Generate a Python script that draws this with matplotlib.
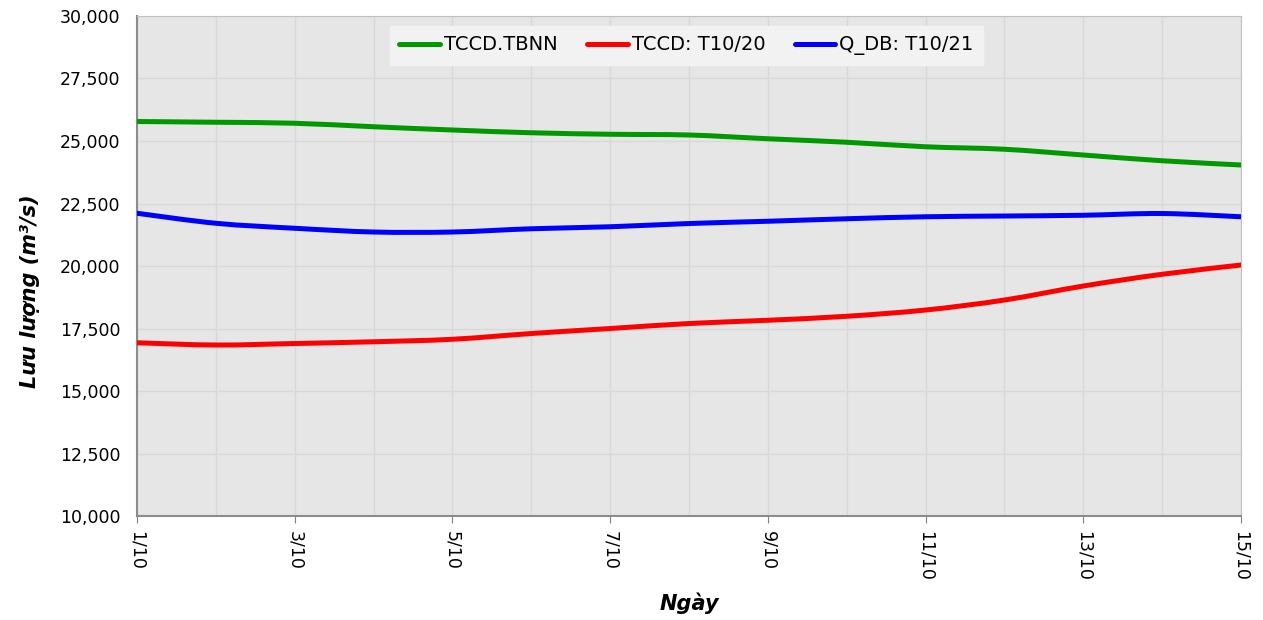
import numpy as np
import matplotlib
matplotlib.use("Agg")
import matplotlib.pyplot as plt
from matplotlib.path import Path
from matplotlib.patches import PathPatch

# daily discharge, 1/10 .. 15/10
days = list(range(1, 16))
day_labels = [f"{d}/10" for d in days]
tbnn = [25780, 25750, 25710, 25570, 25440, 25330, 25270, 25240, 25090, 24950,
        24770, 24670, 24440, 24210, 24040]
t10_20 = [16930, 16840, 16900, 16970, 17070, 17300, 17500, 17700, 17830, 17990,
          18240, 18640, 19200, 19670, 20040]
t10_21 = [22110, 21710, 21510, 21360, 21360, 21490, 21570, 21700, 21790, 21890,
          21970, 22000, 22030, 22100, 21970]

series = [("TCCD.TBNN", tbnn, "#009900"),
          ("TCCD: T10/20", t10_20, "#ff0000"),
          ("Q_DB: T10/21", t10_21, "#0000ff")]


def smooth_path(x, y):
    """Excel-like smoothed line as cubic bezier segments"""
    n = len(x)
    verts = [(x[0], y[0])]
    codes = [Path.MOVETO]
    for i in range(n - 1):
        a = i - 1 if i > 0 else i
        b = i + 2 if i + 2 < n else i + 1
        c1 = (x[i] + (x[i + 1] - x[a]) / 6, y[i] + (y[i + 1] - y[a]) / 6)
        c2 = (x[i + 1] - (x[b] - x[i]) / 6, y[i + 1] - (y[b] - y[i]) / 6)
        verts += [c1, c2, (x[i + 1], y[i + 1])]
        codes += [Path.CURVE4] * 3
    return Path(verts, codes)


fig = plt.figure(figsize=(12.63, 6.2), dpi=100)
ax = fig.add_axes([0.1085, 0.1677, 0.8741, 0.8065])
ax.set_facecolor("#e6e6e6")

for label, vals, colour in series:
    ax.add_patch(PathPatch(smooth_path(days, vals), fill=False, edgecolor=colour,
                           lw=3.6, capstyle="round", joinstyle="round", zorder=3))
    ax.plot([], [], color=colour, lw=3.6, solid_capstyle="round", label=label)

ax.set_xlim(1, 15)
ax.set_ylim(10000, 30000)
ax.set_xticks(days[::2])
ax.set_xticklabels(day_labels[::2], rotation=270, fontsize=12.5)
ax.set_xticks(days, minor=True)
ax.set_yticks(np.arange(10000, 30001, 2500))
ax.set_yticklabels([f"{v:,}" for v in range(10000, 30001, 2500)], fontsize=12.5)
ax.tick_params(axis="x", which="major", length=5, color="#808080", pad=6)
ax.tick_params(axis="x", which="minor", length=0)
ax.tick_params(axis="y", length=0, pad=12)
ax.grid(True, which="both", color="#d8d8d8", lw=1, zorder=0)
ax.set_axisbelow(True)

for side in ["top", "right"]:
    ax.spines[side].set_color("#c0c0c0")
for side in ["left", "bottom"]:
    ax.spines[side].set_color("#8c8c8c")
    ax.spines[side].set_linewidth(1.5)

ax.set_xlabel("Ngày", fontsize=15, fontweight="bold", style="italic", labelpad=8)
ax.set_ylabel("Lưu lượng (m³/s)", fontsize=15, fontweight="bold", style="italic")
ax.yaxis.set_label_coords(-0.088, 0.45)

leg = ax.legend(loc="center", ncol=3, fontsize=14, frameon=True, fancybox=False,
                handlelength=2.1, handletextpad=0.2, columnspacing=1.5,
                bbox_to_anchor=(0.4977, 0.941), borderpad=0.5, borderaxespad=0)
leg.get_frame().set_facecolor("#f2f2f2")
leg.get_frame().set_edgecolor("#f2f2f2")
leg.get_frame().set_alpha(1)

fig.savefig("out.png", dpi=100)
